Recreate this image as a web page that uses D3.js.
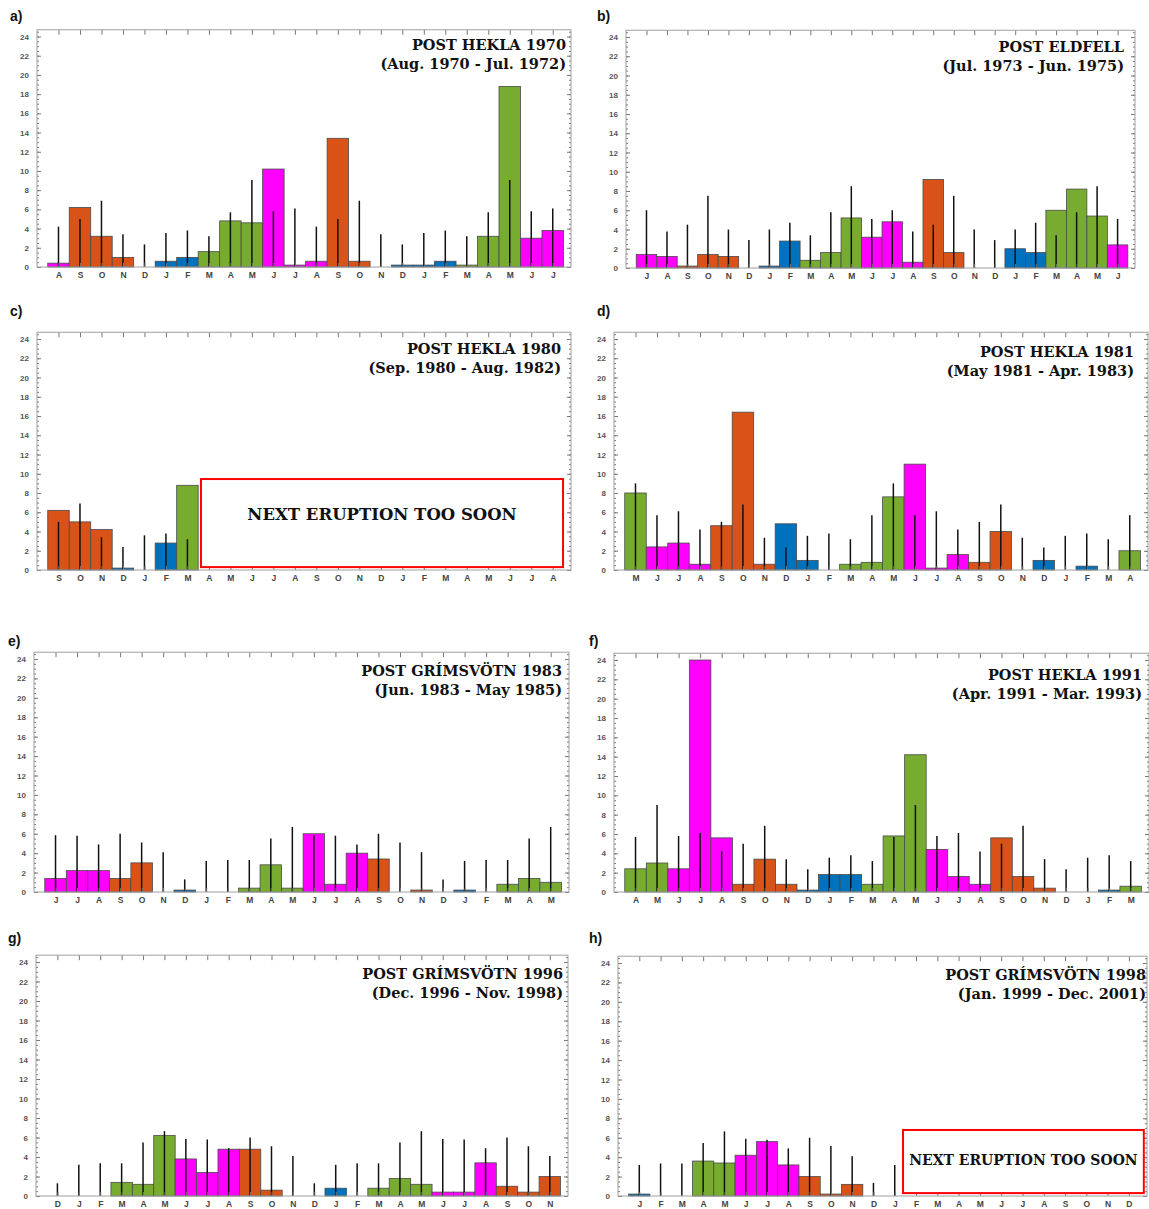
<!DOCTYPE html>
<html>
<head>
<meta charset="utf-8">
<script src="https://cdn.jsdelivr.net/npm/d3@7"></script>
<style>
  body { margin: 0; background: #fff; }
  svg { display: block; }
</style>
</head>
<body>
<div id="chart"></div>
<script>
// month initials used for the x tick labels, indexed by calendar month (0 = Jan)
const monthInitials = ['J', 'F', 'M', 'A', 'M', 'J', 'J', 'A', 'S', 'O', 'N', 'D'];
const yTickValues = [0, 2, 4, 6, 8, 10, 12, 14, 16, 18, 20, 22, 24];

const panelLetters = ['a)', 'b)', 'c)', 'd)', 'e)', 'f)', 'g)', 'h)'];
const titles = ['POST HEKLA 1970', 'POST ELDFELL', 'POST HEKLA 1980', 'POST HEKLA 1981',
    'POST GRÍMSVÖTN 1983', 'POST HEKLA 1991', 'POST GRÍMSVÖTN 1996', 'POST GRÍMSVÖTN 1998'];
const periods = ['(Aug. 1970 - Jul. 1972)', '(Jul. 1973 - Jun. 1975)', '(Sep. 1980 - Aug. 1982)',
    '(May 1981 - Apr. 1983)', '(Jun. 1983 - May 1985)', '(Apr. 1991 - Mar. 1993)',
    '(Dec. 1996 - Nov. 1998)', '(Jan. 1999 - Dec. 2001)'];
// first calendar month of each 24 month window (0 = January)
const startMonths = [7, 6, 8, 4, 5, 3, 11, 0];
const noteText = 'NEXT ERUPTION TOO SOON';

// monthly values (bars) and reference values (black lines), null = no data
const barsA = [0.4, 6.2, 3.2, 1.0, 0, 0.6, 1.0, 1.6, 4.8, 4.6, 10.2, 0.2, 0.6, 13.4, 0.6, 0, 0.2, 0.2, 0.6, 0.2, 3.2, 18.8, 3.0, 3.8];
const linesA = [4.2, 5.0, 6.9, 3.4, 2.35, 3.55, 3.8, 3.2, 5.7, 9.05, 5.8, 6.1, 4.2, 5.0, 6.9, 3.4, 2.35, 3.55, 3.8, 3.2, 5.7, 9.05, 5.8, 6.1];

const barsB = [1.4, 1.2, 0.2, 1.4, 1.2, 0, 0.2, 2.8, 0.8, 1.6, 5.2, 3.2, 4.8, 0.6, 9.2, 1.6, 0, 0, 2.0, 1.6, 6.0, 8.2, 5.4, 2.4];
const linesB = [6.0, 3.8, 4.5, 7.5, 4.0, 2.9, 4.0, 4.7, 3.4, 5.8, 8.5, 5.1, 6.0, 3.8, 4.5, 7.5, 4.0, 2.9, 4.0, 4.7, 3.4, 5.8, 8.5, 5.1];

const barsC = [6.2, 5.0, 4.2, 0.2, 0, 2.8, 8.8, null, null, null, null, null, null, null, null, null, null, null, null, null, null, null, null, null];
const linesC = [5.0, 6.9, 3.4, 2.4, 3.6, 3.8, 3.2, null, null, null, null, null, null, null, null, null, null, null, null, null, null, null, null, null];

const barsD = [8.0, 2.4, 2.8, 0.6, 4.6, 16.4, 0.6, 4.8, 1.0, 0, 0.6, 0.8, 7.6, 11.0, 0.2, 1.6, 0.8, 4.0, 0, 1.0, 0, 0.4, 0, 2.0];
const linesD = [9.0, 5.7, 6.1, 4.2, 5.0, 6.8, 3.35, 2.35, 3.55, 3.8, 3.2, 5.7, 9.0, 5.7, 6.1, 4.2, 5.0, 6.8, 3.35, 2.35, 3.55, 3.8, 3.2, 5.7];

const barsE = [1.4, 2.2, 2.2, 1.4, 3.0, 0, 0.2, 0, 0, 0.4, 2.8, 0.4, 6.0, 0.8, 4.0, 3.4, 0, 0.2, 0, 0.2, 0, 0.8, 1.4, 1.0];
const linesE = [5.85, 5.8, 4.9, 6.0, 5.1, 4.1, 1.3, 3.2, 3.3, 3.3, 5.5, 6.7, 5.85, 5.8, 4.9, 6.0, 5.1, 4.1, 1.3, 3.2, 3.3, 3.3, 5.5, 6.7];

const barsF = [2.4, 3.0, 2.4, 24.0, 5.6, 0.8, 3.4, 0.8, 0.2, 1.8, 1.8, 0.8, 5.8, 14.2, 4.4, 1.6, 0.8, 5.6, 1.6, 0.4, 0, 0, 0.2, 0.6];
const linesF = [5.7, 9.0, 5.8, 6.1, 4.2, 5.0, 6.85, 3.4, 2.35, 3.55, 3.8, 3.2, 5.7, 9.0, 5.8, 6.1, 4.2, 5.0, 6.85, 3.4, 2.35, 3.55, 3.8, 3.2];

const barsG = [0, 0, 0, 1.4, 1.2, 6.2, 3.8, 2.4, 4.8, 4.8, 0.6, 0, 0, 0.8, 0, 0.8, 1.8, 1.2, 0.4, 0.4, 3.4, 1.0, 0.4, 2.0];
const linesG = [1.3, 3.2, 3.35, 3.35, 5.5, 6.65, 5.85, 5.8, 4.9, 6.0, 5.1, 4.1, 1.3, 3.2, 3.35, 3.35, 5.5, 6.65, 5.85, 5.8, 4.9, 6.0, 5.1, 4.1];

const barsH = [0.2, 0, 0, 3.6, 3.4, 4.2, 5.6, 3.2, 2.0, 0.2, 1.2, 0, 0, null, null, null, null, null, null, null, null, null, null, null];
const linesH = [3.2, 3.35, 3.35, 5.45, 6.65, 5.9, 5.8, 4.9, 6.0, 5.15, 4.1, 1.35, 3.2, null, null, null, null, null, null, null, null, null, null, null];

const allBars = [barsA, barsB, barsC, barsD, barsE, barsF, barsG, barsH];
const allLines = [linesA, linesB, linesC, linesD, linesE, linesF, linesG, linesH];

// page layout of each panel: frame edges, y pixel of value 0 and of value 24
const frames = [
    { x0: 37, x1: 571, y0: 267, y24: 36.5, letterX: 10, letterY: 21, titleRight: 566, titleDy: 13 },
    { x0: 626, x1: 1135, y0: 268, y24: 37, letterX: 597, letterY: 21, titleRight: 1124, titleDy: 15 },
    { x0: 37, x1: 571, y0: 570, y24: 339, letterX: 10, letterY: 316, titleRight: 561, titleDy: 15,
      note: { from: 7.63, to: 24.48, top: 9.45, bottom: 0.3, textAt: 5.8, size: 16.5 } },
    { x0: 614, x1: 1148, y0: 570, y24: 339, letterX: 597, letterY: 316, titleRight: 1134, titleDy: 18 },
    { x0: 34, x1: 569, y0: 892, y24: 659, letterX: 8, letterY: 646, titleRight: 562, titleDy: 17 },
    { x0: 614, x1: 1149, y0: 892, y24: 660, letterX: 589, letterY: 646, titleRight: 1142, titleDy: 20 },
    { x0: 36, x1: 568, y0: 1196, y24: 962, letterX: 8, letterY: 943, titleRight: 563, titleDy: 17 },
    { x0: 618, x1: 1147, y0: 1196, y24: 963, letterX: 589, letterY: 943, titleRight: 1146, titleDy: 17,
      note: { from: 13.39, to: 24.7, top: 6.8, bottom: 0.3, textAt: 3.7, size: 14 } }
];

// season colours (DJF, MAM, JJA, SON)
const seasonColor = (m) => {
    if (m === 11 || m <= 1) return '#0072bd';
    if (m <= 4) return '#77ac30';
    if (m <= 7) return '#ff00ff';
    return '#d95319';
};

const width = 1149, height = 1209;
const svg = d3.select('#chart').append('svg')
    .attr('width', width).attr('height', height)
    .attr('viewBox', `0 0 ${width} ${height}`);

const serif = '"DejaVu Serif", "Liberation Serif", serif';
const sans = '"Liberation Sans", Arial, sans-serif';

frames.forEach((f, p) => {
    const bars = allBars[p];
    const lines = allLines[p];
    const months = d3.range(24).map((i) => (startMonths[p] + i) % 12);

    const x = d3.scaleLinear().domain([0, 24.85]).range([f.x0, f.x1]);
    const y = d3.scaleLinear().domain([0, 24]).range([f.y0, f.y24]);
    const top = y(24.7);
    const step = x(1) - x(0);

    const g = svg.append('g');

    // panel letter
    g.append('text')
        .attr('x', f.letterX).attr('y', f.letterY)
        .attr('font-family', sans).attr('font-weight', 'bold')
        .attr('font-size', 14).attr('fill', '#111')
        .text(panelLetters[p]);

    // bars
    const barData = bars.map((v, i) => ({ v, i, m: months[i] })).filter((d) => d.v);
    g.selectAll('rect.bar')
        .data(barData)
        .enter()
        .append('rect')
        .attr('class', 'bar')
        .attr('x', (d) => x(d.i + 1) - step / 2)
        .attr('width', step)
        .attr('y', (d) => y(d.v))
        .attr('height', (d) => y(0) - y(d.v))
        .attr('fill', (d) => seasonColor(d.m))
        .attr('stroke', '#4a4a4a')
        .attr('stroke-width', 0.8);

    // reference lines
    const lineData = lines.map((v, i) => ({ v, i })).filter((d) => d.v != null);
    g.selectAll('line.ref')
        .data(lineData)
        .enter()
        .append('line')
        .attr('class', 'ref')
        .attr('x1', (d) => x(d.i + 1))
        .attr('x2', (d) => x(d.i + 1))
        .attr('y1', y(0))
        .attr('y2', (d) => y(d.v))
        .attr('stroke', '#111')
        .attr('stroke-width', 1.5);

    // axes: inward ticks on all four sides
    const minor = d3.range(0, 24.6, 0.5);
    const tickStyle = (sel) => {
        sel.select('.domain').remove();
        sel.selectAll('.tick line').attr('stroke', '#777');
    };
    g.append('g').attr('transform', `translate(${f.x0},0)`)
        .call(d3.axisLeft(y).tickValues(minor).tickSize(-2).tickFormat(''))
        .call(tickStyle);
    g.append('g').attr('transform', `translate(${f.x1},0)`)
        .call(d3.axisRight(y).tickValues(minor).tickSize(-2).tickFormat(''))
        .call(tickStyle);
    g.append('g').attr('transform', `translate(${f.x1},0)`)
        .call(d3.axisRight(y).tickValues(yTickValues).tickSize(-4).tickFormat(''))
        .call(tickStyle);
    g.append('g').attr('transform', `translate(${f.x0},0)`)
        .call(d3.axisLeft(y).tickValues(yTickValues).tickSize(-4).tickPadding(8))
        .call(tickStyle)
        .call((sel) => sel.selectAll('.tick text')
            .attr('font-family', sans).attr('font-weight', 'bold')
            .attr('font-size', 8).attr('fill', '#555'));

    const monthPos = d3.range(1, 25);
    g.append('g').attr('transform', `translate(0,${top})`)
        .call(d3.axisTop(x).tickValues(monthPos).tickSize(-5).tickFormat(''))
        .call(tickStyle);
    g.append('g').attr('transform', `translate(0,${f.y0})`)
        .call(d3.axisBottom(x).tickValues(monthPos).tickSize(-4).tickPadding(4.5)
            .tickFormat((d) => monthInitials[months[d - 1]]))
        .call(tickStyle)
        .call((sel) => sel.selectAll('.tick text')
            .attr('font-family', sans).attr('font-weight', 'bold')
            .attr('font-size', 8.5).attr('fill', '#444'));

    // frame
    g.append('rect')
        .attr('x', f.x0).attr('y', top)
        .attr('width', f.x1 - f.x0).attr('height', f.y0 - top)
        .attr('fill', 'none').attr('stroke', '#a0a0a0').attr('stroke-width', 1);

    // title
    g.append('text')
        .attr('x', f.titleRight).attr('y', f.y24 + f.titleDy)
        .attr('text-anchor', 'end')
        .attr('font-family', serif).attr('font-weight', 'bold')
        .attr('font-size', 14.5).attr('fill', '#111')
        .text(titles[p]);
    g.append('text')
        .attr('x', f.titleRight).attr('y', f.y24 + f.titleDy + 19)
        .attr('text-anchor', 'end')
        .attr('font-family', serif).attr('font-weight', 'bold')
        .attr('font-size', 14.5).attr('fill', '#111')
        .text(periods[p]);

    // note box
    if (f.note) {
        const n = f.note;
        g.append('rect')
            .attr('x', x(n.from)).attr('y', y(n.top))
            .attr('width', x(n.to) - x(n.from)).attr('height', y(n.bottom) - y(n.top))
            .attr('fill', '#fff').attr('stroke', '#ff0000').attr('stroke-width', 2);
        g.append('text')
            .attr('x', (x(n.from) + x(n.to)) / 2)
            .attr('y', y(n.textAt))
            .attr('dy', '0.35em')
            .attr('text-anchor', 'middle')
            .attr('font-family', serif).attr('font-weight', 'bold')
            .attr('font-size', n.size).attr('fill', '#111')
            .text(noteText);
    }
});
</script>
</body>
</html>
